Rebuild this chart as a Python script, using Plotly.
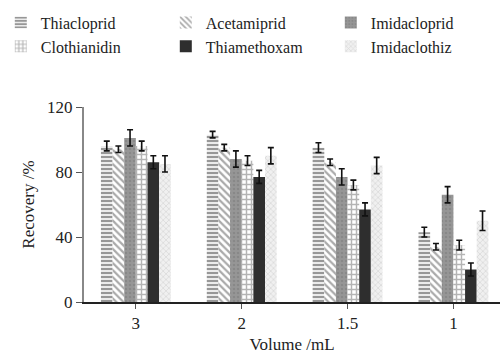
import plotly.graph_objects as go

categories = ["3", "2", "1.5", "1"]
series_names = ["Thiacloprid", "Acetamiprid", "Imidacloprid",
                "Clothianidin", "Thiamethoxam", "Imidaclothiz"]
thiacloprid = [96, 103, 95, 43]
acetamiprid = [94, 95, 86, 34]
imidacloprid = [101, 88, 77, 66]
clothianidin = [96, 87, 72, 35]
thiamethoxam = [86, 77, 57, 20]
imidaclothiz = [85, 90, 84, 50]
err_thiacloprid = [3, 2, 3, 3]
err_acetamiprid = [2, 2, 2, 2]
err_imidacloprid = [5, 5, 5, 5]
err_clothianidin = [3, 3, 3, 3]
err_thiamethoxam = [4, 4, 4, 4]
err_imidaclothiz = [5, 5, 5, 6]
y_ticks = [0, 40, 80, 120]

values = [thiacloprid, acetamiprid, imidacloprid, clothianidin, thiamethoxam, imidaclothiz]
errors = [err_thiacloprid, err_acetamiprid, err_imidacloprid, err_clothianidin,
          err_thiamethoxam, err_imidaclothiz]
styles = [
    dict(color="white", pattern=dict(shape="-", fgcolor="#3a3a3a", bgcolor="#f4f4f4", size=4, solidity=0.55)),
    dict(color="white", pattern=dict(shape="\\", fgcolor="#555555", bgcolor="white", size=5, solidity=0.45)),
    dict(color="#8c8c8c", pattern=dict(shape=".", fgcolor="#7a7a7a", bgcolor="#969696", size=4, solidity=0.3)),
    dict(color="white", pattern=dict(shape="+", fgcolor="#6a6a6a", bgcolor="white", size=5, solidity=0.5)),
    dict(color="#2e2e2e"),
    dict(color="white", pattern=dict(shape="x", fgcolor="#c8c8c8", bgcolor="#f0f0f0", size=4, solidity=0.4)),
]

fig = go.Figure()
for name, v, e, st in zip(series_names, values, errors, styles):
    fig.add_trace(go.Bar(
        x=categories, y=v, name=name,
        marker=dict(line=dict(width=0), **st),
        error_y=dict(type="data", array=e, color="#111111", thickness=1.6, width=3),
    ))

serif = "'Liberation Serif', 'DejaVu Serif', Times, serif"
fig.update_layout(
    width=504, height=363,
    margin=dict(l=84, r=4, t=107, b=61, autoexpand=False),
    paper_bgcolor="white", plot_bgcolor="white",
    barmode="group", bargap=0.34, bargroupgap=0,
    font=dict(family=serif, size=16, color="#222222"),
    showlegend=True,
    legend=dict(orientation="h", x=-0.2, xanchor="left", y=1.52, yanchor="top",
                entrywidth=120, entrywidthmode="pixels",
                font=dict(family=serif, size=16, color="#222222"),
                tracegroupgap=0, itemwidth=30, bgcolor="rgba(0,0,0,0)"),
)
fig.update_xaxes(
    type="category", range=[-0.49, 3.44],
    showline=True, linecolor="#222222", linewidth=1.5,
    ticks="outside", ticklen=5, tickcolor="#555555",
    title=dict(text="Volume /mL", standoff=6, font=dict(family=serif, size=17)),
    tickfont=dict(family=serif, size=17),
)
fig.update_yaxes(
    range=[0, 120], tickvals=y_ticks,
    showline=True, linecolor="#888888", linewidth=2,
    ticks="outside", ticklen=6, tickcolor="#555555",
    showgrid=False, zeroline=False,
    title=dict(text="Recovery /%", standoff=8, font=dict(family=serif, size=17)),
    tickfont=dict(family=serif, size=17),
)
fig.write_html("out.html", config={"displayModeBar": False},
               post_script="document.body.style.margin='0';")
